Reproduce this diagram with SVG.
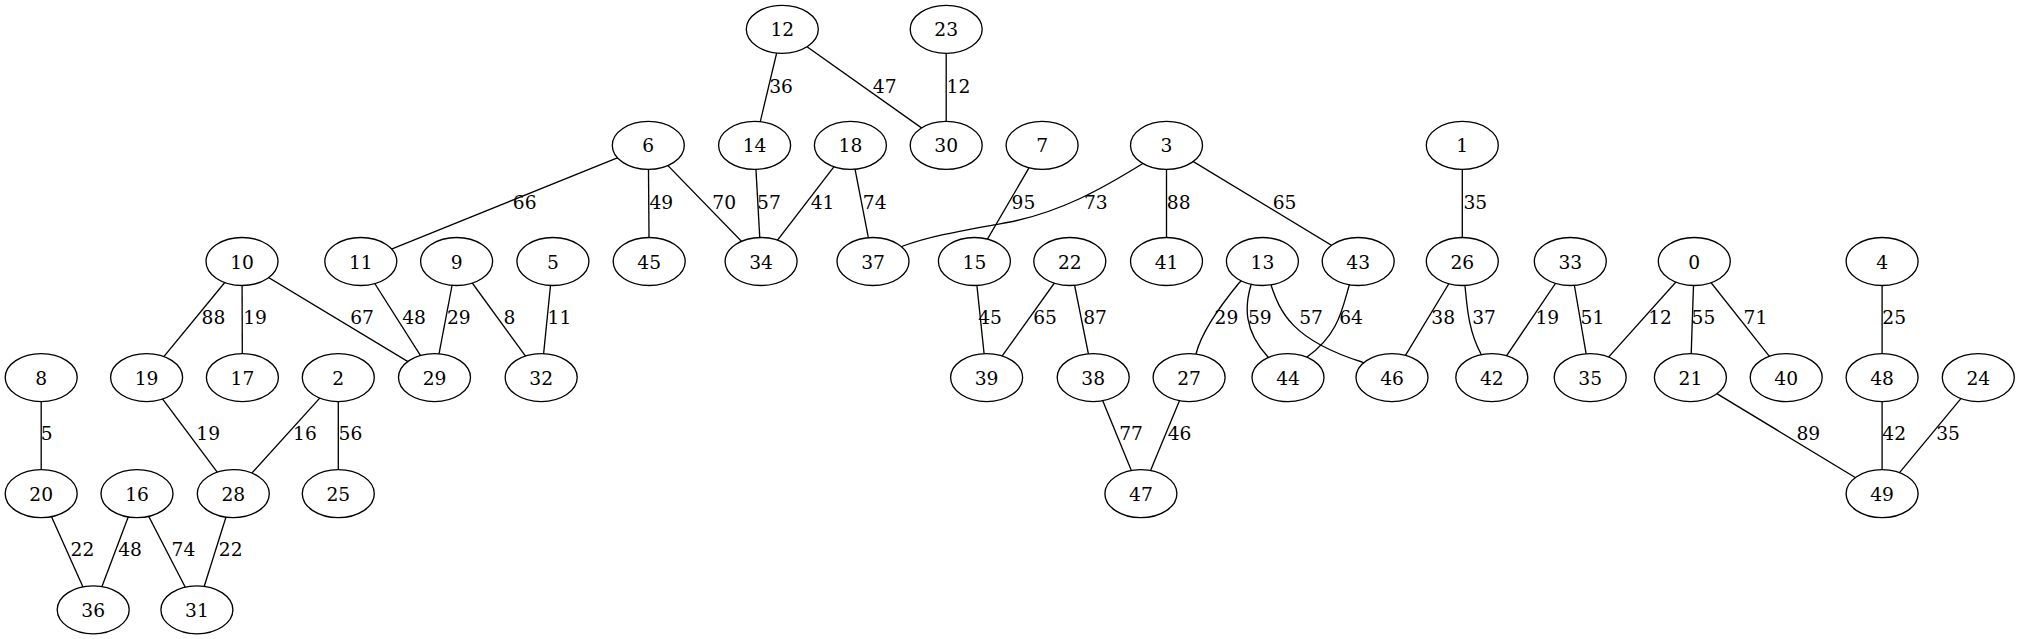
<svg xmlns="http://www.w3.org/2000/svg" width="2020" height="639" viewBox="0 0 2020 639">
<style>
.n ellipse{fill:#fff;stroke:#000;stroke-width:1.33}
.n text,.lbl text{font-family:"DejaVu Serif","Liberation Serif",serif;font-size:18.67px;fill:#000;text-anchor:middle}
.e line,.e path{stroke:#000;stroke-width:1.33;fill:none}
</style>
<rect width="2020" height="639" fill="#fff"/>
<g id="connectors" class="e">
<line x1="782.3" y1="29.3" x2="754.6" y2="145.4"/>
<line x1="782.3" y1="29.3" x2="946.2" y2="145.4"/>
<line x1="946.2" y1="29.3" x2="946.2" y2="145.4"/>
<line x1="648.3" y1="145.4" x2="360.8" y2="261.5"/>
<line x1="648.3" y1="145.4" x2="649.2" y2="261.5"/>
<line x1="648.3" y1="145.4" x2="761.1" y2="261.5"/>
<line x1="754.6" y1="145.4" x2="761.1" y2="261.5"/>
<line x1="850.4" y1="145.4" x2="761.1" y2="261.5"/>
<line x1="850.4" y1="145.4" x2="873" y2="261.5"/>
<line x1="1042.1" y1="145.4" x2="974.4" y2="261.5"/>
<path d="M1166.5,145.4 L1142,164 C1100,190 1060,212 1010,222 C960,231 930,236 903,246 L873,261.5"/>
<line x1="1166.5" y1="145.4" x2="1166.5" y2="261.5"/>
<line x1="1166.5" y1="145.4" x2="1358.2" y2="261.5"/>
<line x1="1462.3" y1="145.4" x2="1462.3" y2="261.5"/>
<line x1="242" y1="261.5" x2="146.6" y2="377.6"/>
<line x1="242" y1="261.5" x2="242.4" y2="377.6"/>
<line x1="242" y1="261.5" x2="434.5" y2="377.6"/>
<line x1="360.8" y1="261.5" x2="434.5" y2="377.6"/>
<line x1="456.6" y1="261.5" x2="434.5" y2="377.6"/>
<line x1="456.6" y1="261.5" x2="541.2" y2="377.6"/>
<line x1="552.9" y1="261.5" x2="541.2" y2="377.6"/>
<line x1="974.4" y1="261.5" x2="986.6" y2="377.6"/>
<line x1="1069.8" y1="261.5" x2="986.6" y2="377.6"/>
<line x1="1069.8" y1="261.5" x2="1093.2" y2="377.6"/>
<path d="M1262.4,261.5 L1239,283 C1225,300 1202,330 1196,354 L1189.1,377.6"/>
<path d="M1262.4,261.5 L1251,285 C1245,305 1243,330 1268,357 L1288,377.6"/>
<path d="M1262.4,261.5 L1271,285 C1280,312 1292,340 1362,362 L1392,377.6"/>
<path d="M1358.2,261.5 L1349,286 C1342,310 1338,335 1307,357 L1288,377.6"/>
<line x1="1462.3" y1="261.5" x2="1392" y2="377.6"/>
<path d="M1462.3,261.5 L1465,286 C1467,305 1468,330 1481,354 L1491.8,377.6"/>
<line x1="1570.3" y1="261.5" x2="1491.8" y2="377.6"/>
<line x1="1570.3" y1="261.5" x2="1590.2" y2="377.6"/>
<line x1="1694.3" y1="261.5" x2="1590.2" y2="377.6"/>
<line x1="1694.3" y1="261.5" x2="1690.4" y2="377.6"/>
<line x1="1694.3" y1="261.5" x2="1786.2" y2="377.6"/>
<line x1="1882.1" y1="261.5" x2="1882.1" y2="377.6"/>
<line x1="41.2" y1="377.6" x2="41.2" y2="493.7"/>
<line x1="146.6" y1="377.6" x2="233.3" y2="493.7"/>
<line x1="338.3" y1="377.6" x2="233.3" y2="493.7"/>
<line x1="338.3" y1="377.6" x2="338.3" y2="493.7"/>
<line x1="1093.2" y1="377.6" x2="1140.9" y2="493.7"/>
<line x1="1189.1" y1="377.6" x2="1140.9" y2="493.7"/>
<line x1="1690.4" y1="377.6" x2="1882.1" y2="493.7"/>
<line x1="1882.1" y1="377.6" x2="1882.1" y2="493.7"/>
<line x1="1978.3" y1="377.6" x2="1882.1" y2="493.7"/>
<line x1="41.2" y1="493.7" x2="93.2" y2="609.8"/>
<line x1="137" y1="493.7" x2="93.2" y2="609.8"/>
<line x1="137" y1="493.7" x2="196.9" y2="609.8"/>
<line x1="233.3" y1="493.7" x2="196.9" y2="609.8"/>
</g>
<g id="edge-labels" class="lbl">
<text x="781" y="93">36</text>
<text x="884.7" y="93">47</text>
<text x="958.4" y="93">12</text>
<text x="524.7" y="208.5">66</text>
<text x="661.3" y="208.5">49</text>
<text x="724.2" y="208.5">70</text>
<text x="768.9" y="208.5">57</text>
<text x="822.6" y="208.5">41</text>
<text x="874.7" y="208.5">74</text>
<text x="1023.4" y="208.5">95</text>
<text x="1095.8" y="208.5">73</text>
<text x="1178.7" y="208.5">88</text>
<text x="1284.5" y="208.5">65</text>
<text x="1475.3" y="208.5">35</text>
<text x="213.4" y="324">88</text>
<text x="255" y="324">19</text>
<text x="362" y="324">67</text>
<text x="414" y="324">48</text>
<text x="458.8" y="324">29</text>
<text x="509.5" y="324">8</text>
<text x="559.4" y="324">11</text>
<text x="990" y="324">45</text>
<text x="1045.1" y="324">65</text>
<text x="1095" y="324">87</text>
<text x="1226.4" y="324">29</text>
<text x="1259.8" y="324">59</text>
<text x="1311" y="324">57</text>
<text x="1351" y="324">64</text>
<text x="1443.2" y="324">38</text>
<text x="1484" y="324">37</text>
<text x="1547.3" y="324">19</text>
<text x="1592.4" y="324">51</text>
<text x="1660" y="324">12</text>
<text x="1703.4" y="324">55</text>
<text x="1755.4" y="324">71</text>
<text x="1894.2" y="324">25</text>
<text x="46.8" y="440">5</text>
<text x="208.2" y="440">19</text>
<text x="304.9" y="440">16</text>
<text x="350.4" y="440">56</text>
<text x="1131" y="440">77</text>
<text x="1179.5" y="440">46</text>
<text x="1808.3" y="440">89</text>
<text x="1894.2" y="440">42</text>
<text x="1948" y="440">35</text>
<text x="82.4" y="556">22</text>
<text x="130.1" y="556">48</text>
<text x="183.4" y="556">74</text>
<text x="230.7" y="556">22</text>
</g>
<g id="node12" class="n"><ellipse cx="782.3" cy="29.3" rx="36" ry="24"/><text x="782.3" y="36.3">12</text></g>
<g id="node23" class="n"><ellipse cx="946.2" cy="29.3" rx="36" ry="24"/><text x="946.2" y="36.3">23</text></g>
<g id="node6" class="n"><ellipse cx="648.3" cy="145.4" rx="36" ry="24"/><text x="648.3" y="152.4">6</text></g>
<g id="node14" class="n"><ellipse cx="754.6" cy="145.4" rx="36" ry="24"/><text x="754.6" y="152.4">14</text></g>
<g id="node18" class="n"><ellipse cx="850.4" cy="145.4" rx="36" ry="24"/><text x="850.4" y="152.4">18</text></g>
<g id="node30" class="n"><ellipse cx="946.2" cy="145.4" rx="36" ry="24"/><text x="946.2" y="152.4">30</text></g>
<g id="node7" class="n"><ellipse cx="1042.1" cy="145.4" rx="36" ry="24"/><text x="1042.1" y="152.4">7</text></g>
<g id="node3" class="n"><ellipse cx="1166.5" cy="145.4" rx="36" ry="24"/><text x="1166.5" y="152.4">3</text></g>
<g id="node1" class="n"><ellipse cx="1462.3" cy="145.4" rx="36" ry="24"/><text x="1462.3" y="152.4">1</text></g>
<g id="node10" class="n"><ellipse cx="242" cy="261.5" rx="36" ry="24"/><text x="242" y="268.5">10</text></g>
<g id="node11" class="n"><ellipse cx="360.8" cy="261.5" rx="36" ry="24"/><text x="360.8" y="268.5">11</text></g>
<g id="node9" class="n"><ellipse cx="456.6" cy="261.5" rx="36" ry="24"/><text x="456.6" y="268.5">9</text></g>
<g id="node5" class="n"><ellipse cx="552.9" cy="261.5" rx="36" ry="24"/><text x="552.9" y="268.5">5</text></g>
<g id="node45" class="n"><ellipse cx="649.2" cy="261.5" rx="36" ry="24"/><text x="649.2" y="268.5">45</text></g>
<g id="node34" class="n"><ellipse cx="761.1" cy="261.5" rx="36" ry="24"/><text x="761.1" y="268.5">34</text></g>
<g id="node37" class="n"><ellipse cx="873" cy="261.5" rx="36" ry="24"/><text x="873" y="268.5">37</text></g>
<g id="node15" class="n"><ellipse cx="974.4" cy="261.5" rx="36" ry="24"/><text x="974.4" y="268.5">15</text></g>
<g id="node22" class="n"><ellipse cx="1069.8" cy="261.5" rx="36" ry="24"/><text x="1069.8" y="268.5">22</text></g>
<g id="node41" class="n"><ellipse cx="1166.5" cy="261.5" rx="36" ry="24"/><text x="1166.5" y="268.5">41</text></g>
<g id="node13" class="n"><ellipse cx="1262.4" cy="261.5" rx="36" ry="24"/><text x="1262.4" y="268.5">13</text></g>
<g id="node43" class="n"><ellipse cx="1358.2" cy="261.5" rx="36" ry="24"/><text x="1358.2" y="268.5">43</text></g>
<g id="node26" class="n"><ellipse cx="1462.3" cy="261.5" rx="36" ry="24"/><text x="1462.3" y="268.5">26</text></g>
<g id="node33" class="n"><ellipse cx="1570.3" cy="261.5" rx="36" ry="24"/><text x="1570.3" y="268.5">33</text></g>
<g id="node0" class="n"><ellipse cx="1694.3" cy="261.5" rx="36" ry="24"/><text x="1694.3" y="268.5">0</text></g>
<g id="node4" class="n"><ellipse cx="1882.1" cy="261.5" rx="36" ry="24"/><text x="1882.1" y="268.5">4</text></g>
<g id="node8" class="n"><ellipse cx="41.2" cy="377.6" rx="36" ry="24"/><text x="41.2" y="384.6">8</text></g>
<g id="node19" class="n"><ellipse cx="146.6" cy="377.6" rx="36" ry="24"/><text x="146.6" y="384.6">19</text></g>
<g id="node17" class="n"><ellipse cx="242.4" cy="377.6" rx="36" ry="24"/><text x="242.4" y="384.6">17</text></g>
<g id="node2" class="n"><ellipse cx="338.3" cy="377.6" rx="36" ry="24"/><text x="338.3" y="384.6">2</text></g>
<g id="node29" class="n"><ellipse cx="434.5" cy="377.6" rx="36" ry="24"/><text x="434.5" y="384.6">29</text></g>
<g id="node32" class="n"><ellipse cx="541.2" cy="377.6" rx="36" ry="24"/><text x="541.2" y="384.6">32</text></g>
<g id="node39" class="n"><ellipse cx="986.6" cy="377.6" rx="36" ry="24"/><text x="986.6" y="384.6">39</text></g>
<g id="node38" class="n"><ellipse cx="1093.2" cy="377.6" rx="36" ry="24"/><text x="1093.2" y="384.6">38</text></g>
<g id="node27" class="n"><ellipse cx="1189.1" cy="377.6" rx="36" ry="24"/><text x="1189.1" y="384.6">27</text></g>
<g id="node44" class="n"><ellipse cx="1288" cy="377.6" rx="36" ry="24"/><text x="1288" y="384.6">44</text></g>
<g id="node46" class="n"><ellipse cx="1392" cy="377.6" rx="36" ry="24"/><text x="1392" y="384.6">46</text></g>
<g id="node42" class="n"><ellipse cx="1491.8" cy="377.6" rx="36" ry="24"/><text x="1491.8" y="384.6">42</text></g>
<g id="node35" class="n"><ellipse cx="1590.2" cy="377.6" rx="36" ry="24"/><text x="1590.2" y="384.6">35</text></g>
<g id="node21" class="n"><ellipse cx="1690.4" cy="377.6" rx="36" ry="24"/><text x="1690.4" y="384.6">21</text></g>
<g id="node40" class="n"><ellipse cx="1786.2" cy="377.6" rx="36" ry="24"/><text x="1786.2" y="384.6">40</text></g>
<g id="node48" class="n"><ellipse cx="1882.1" cy="377.6" rx="36" ry="24"/><text x="1882.1" y="384.6">48</text></g>
<g id="node24" class="n"><ellipse cx="1978.3" cy="377.6" rx="36" ry="24"/><text x="1978.3" y="384.6">24</text></g>
<g id="node20" class="n"><ellipse cx="41.2" cy="493.7" rx="36" ry="24"/><text x="41.2" y="500.7">20</text></g>
<g id="node16" class="n"><ellipse cx="137" cy="493.7" rx="36" ry="24"/><text x="137" y="500.7">16</text></g>
<g id="node28" class="n"><ellipse cx="233.3" cy="493.7" rx="36" ry="24"/><text x="233.3" y="500.7">28</text></g>
<g id="node25" class="n"><ellipse cx="338.3" cy="493.7" rx="36" ry="24"/><text x="338.3" y="500.7">25</text></g>
<g id="node47" class="n"><ellipse cx="1140.9" cy="493.7" rx="36" ry="24"/><text x="1140.9" y="500.7">47</text></g>
<g id="node49" class="n"><ellipse cx="1882.1" cy="493.7" rx="36" ry="24"/><text x="1882.1" y="500.7">49</text></g>
<g id="node36" class="n"><ellipse cx="93.2" cy="609.8" rx="36" ry="24"/><text x="93.2" y="616.8">36</text></g>
<g id="node31" class="n"><ellipse cx="196.9" cy="609.8" rx="36" ry="24"/><text x="196.9" y="616.8">31</text></g>
</svg>
